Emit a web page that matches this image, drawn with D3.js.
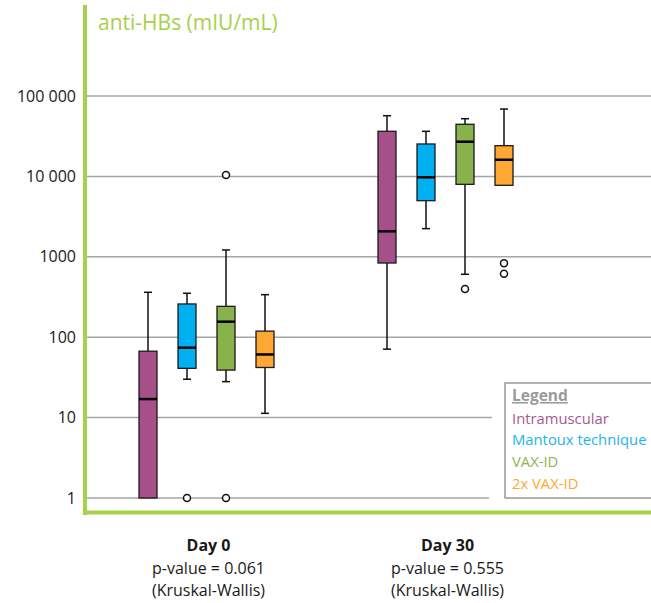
<!DOCTYPE html>
<html>
<head>
<meta charset="utf-8">
<script src="https://cdn.jsdelivr.net/npm/d3@7"></script>
<style>
  html, body { margin: 0; padding: 0; background: #fff; }
  svg { display: block; font-family: "Open Sans", Lato, sans-serif; }
</style>
</head>
<body>
<svg id="chart" width="651" height="603"></svg>
<script>
// ---- data ----
const days = ["Day 0", "Day 30"];
const pValues = ["p-value = 0.061", "p-value = 0.555"];
const series = ["Intramuscular", "Mantoux technique", "VAX-ID", "2x VAX-ID"];
const fillColors = ["#a64f88", "#00b0f0", "#8ab24c", "#ffa733"];
const textColors = ["#a85a8f", "#22b4f0", "#8db44e", "#ffa733"];
const yTicks = [1, 10, 100, 1000, 10000, 100000];
const yTickLabels = ["1", "10", "100", "1000", "10 000", "100 000"];
// [whiskerLow, q1, median, q3, whiskerHigh] per day per series
const day0Stats = [
  [1, 1, 17, 67, 362],
  [30, 41, 74, 259, 352],
  [28, 39, 156, 242, 1216],
  [11.3, 42, 61, 119, 338]
];
const day30Stats = [
  [71, 837, 2075, 36400, 56900],
  [2240, 4990, 9750, 25300, 36400],
  [606, 7970, 27000, 44500, 52200],
  [7750, 7750, 16100, 24100, 68900]
];
const day0Outliers = [[], [1], [1, 10400], []];
const day30Outliers = [[], [], [398], [830, 617]];

const stats = [day0Stats, day30Stats];
const outliers = [day0Outliers, day30Outliers];

// ---- layout ----
const svg = d3.select("#chart");
const y = d3.scaleLog().domain([1, 100000]).range([498, 96]);
const xDay = d3.scaleBand().domain(days).range([87, 565]).padding(0);
const xSer = d3.scalePoint().domain(series).range([61, 178]);
const boxW = 18, capW = 8;
const fs = 16;

// gridlines
const gridEnds = {1: 489, 10: 492};
svg.append("g").selectAll("line").data(yTicks).join("line")
  .attr("x1", 87).attr("x2", d => gridEnds[d] || 651)
  .attr("y1", d => y(d)).attr("y2", d => y(d))
  .attr("stroke", "#a6a6a6").attr("stroke-width", 1.5);

// y tick labels
svg.append("g").selectAll("text").data(yTicks).join("text")
  .attr("x", 76).attr("y", d => y(d)).attr("dy", "0.35em")
  .attr("text-anchor", "end").attr("font-size", fs).attr("fill", "#1a1a1a")
  .text((d, i) => yTickLabels[i]);

// boxes
days.forEach((day, di) => {
  const g = svg.append("g").attr("transform", `translate(${xDay(day)},0)`);
  series.forEach((s, si) => {
    const [lo, q1, med, q3, hi] = stats[di][si];
    const cx = xSer(s);
    const sg = g.append("g");
    sg.append("line").attr("x1", cx).attr("x2", cx).attr("y1", y(hi)).attr("y2", y(q3))
      .attr("stroke", "#111").attr("stroke-width", 1.5);
    sg.append("line").attr("x1", cx).attr("x2", cx).attr("y1", y(q1)).attr("y2", y(lo))
      .attr("stroke", "#111").attr("stroke-width", 1.5);
    if (hi > q3) sg.append("line").attr("x1", cx - capW / 2).attr("x2", cx + capW / 2)
      .attr("y1", y(hi)).attr("y2", y(hi)).attr("stroke", "#111").attr("stroke-width", 1.5);
    if (lo < q1) sg.append("line").attr("x1", cx - capW / 2).attr("x2", cx + capW / 2)
      .attr("y1", y(lo)).attr("y2", y(lo)).attr("stroke", "#111").attr("stroke-width", 1.5);
    sg.append("rect").attr("x", cx - boxW / 2).attr("width", boxW)
      .attr("y", y(q3)).attr("height", y(q1) - y(q3))
      .attr("fill", fillColors[si]).attr("stroke", "#1a1a1a").attr("stroke-width", 1.3);
    sg.append("line").attr("x1", cx - boxW / 2).attr("x2", cx + boxW / 2)
      .attr("y1", y(med)).attr("y2", y(med)).attr("stroke", "#000").attr("stroke-width", 2.5);
    sg.selectAll("circle").data(outliers[di][si]).join("circle")
      .attr("cx", cx).attr("cy", d => y(d)).attr("r", 3.5)
      .attr("fill", "#fff").attr("stroke", "#111").attr("stroke-width", 1.5);
  });
  const cxDay = xDay(day) + xDay.bandwidth() / 2 + 2;
  svg.append("text").attr("x", cxDay).attr("y", 551).attr("text-anchor", "middle")
    .attr("font-size", fs).attr("font-weight", "bold").attr("fill", "#1a1a1a").text(day);
  svg.append("text").attr("x", cxDay).attr("y", 574).attr("text-anchor", "middle")
    .attr("font-size", fs).attr("fill", "#1a1a1a").text(pValues[di]);
  svg.append("text").attr("x", cxDay).attr("y", 596).attr("text-anchor", "middle")
    .attr("font-size", fs).attr("fill", "#1a1a1a").text("(Kruskal-Wallis)");
});

// axes (green)
svg.append("line").attr("x1", 85).attr("x2", 85).attr("y1", 5).attr("y2", 515)
  .attr("stroke", "#a8d14a").attr("stroke-width", 4);
svg.append("line").attr("x1", 83).attr("x2", 651).attr("y1", 512.5).attr("y2", 512.5)
  .attr("stroke", "#a8d14a").attr("stroke-width", 4);

// title
svg.append("text").attr("x", 98).attr("y", 30).attr("font-size", 21)
  .attr("fill", "#a8d14a").text("anti-HBs (mIU/mL)");

// legend
const lg = svg.append("g");
lg.append("rect").attr("x", 505).attr("y", 383).attr("width", 160).attr("height", 115)
  .attr("fill", "#fff").attr("stroke", "#999").attr("stroke-width", 1.5);
lg.append("text").attr("x", 512).attr("y", 401).attr("font-size", 15.5).attr("font-weight", "bold")
  .attr("fill", "#9a9a9a").attr("text-decoration", "underline").text("Legend");
lg.selectAll("text.item").data(series).join("text").attr("class", "item")
  .attr("x", 512).attr("y", (d, i) => 423.5 + i * 21.7).attr("font-size", 14.8)
  .attr("fill", (d, i) => textColors[i]).text(d => d);
</script>
</body>
</html>
